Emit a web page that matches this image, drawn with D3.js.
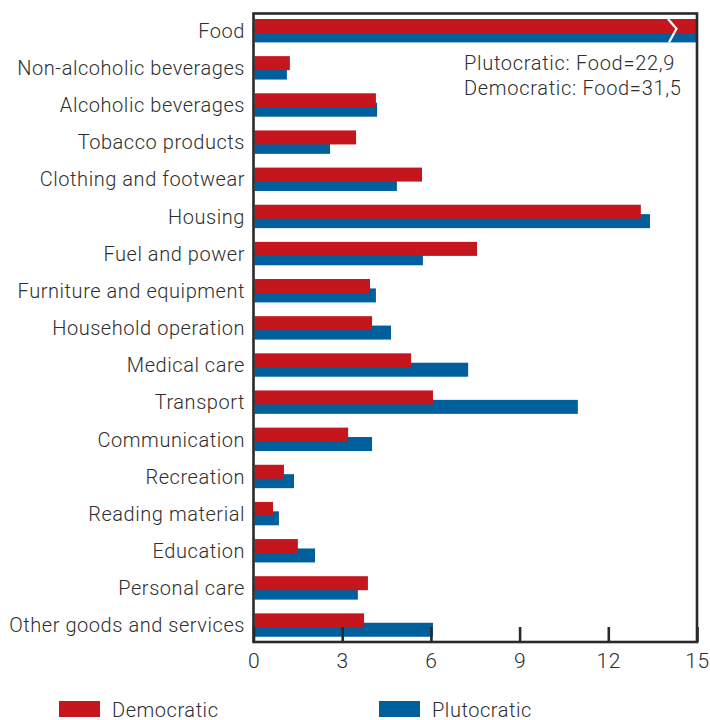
<!DOCTYPE html>
<html>
<head>
<meta charset="utf-8">
<script src="https://cdn.jsdelivr.net/npm/d3@7"></script>
<style>
  html, body { margin: 0; padding: 0; background: #fff; }
  svg { display: block; }
  text { font-family: "Roboto", "Liberation Sans", sans-serif; font-weight: 300; fill: #2e2e2e; letter-spacing: 0.55px; }
</style>
</head>
<body>
<svg id="chart" width="710" height="720"></svg>
<script>
// Household expenditure shares by category
const categories = [
  "Food", "Non-alcoholic beverages", "Alcoholic beverages", "Tobacco products",
  "Clothing and footwear", "Housing", "Fuel and power", "Furniture and equipment",
  "Household operation", "Medical care", "Transport", "Communication",
  "Recreation", "Reading material", "Education", "Personal care",
  "Other goods and services"
];
const democratic = [31.5, 1.23, 4.14, 3.47, 5.70, 13.10, 7.56, 3.94, 4.01, 5.33, 6.07, 3.20, 1.03, 0.66, 1.50, 3.87, 3.74];
const plutocratic = [22.9, 1.13, 4.18, 2.59, 4.85, 13.41, 5.73, 4.14, 4.65, 7.26, 10.97, 4.01, 1.37, 0.86, 2.08, 3.53, 6.07];
const xTicks = [0, 3, 6, 9, 12, 15];
const seriesNames = ["Democratic", "Plutocratic"];
const noteLines = ["Plutocratic: Food=22,9", "Democratic: Food=31,5"];

const colors = { Democratic: "#c4161c", Plutocratic: "#005f9d" };

const svg = d3.select("#chart");

const frame = { left: 253.5, right: 697, top: 13.5, bottom: 642 };

const x = d3.scaleLinear().domain([0, 15]).range([frame.left, frame.right]).clamp(true);
const y = d3.scaleBand().domain(categories).range([12, 643.5]);

const barH = 14;
const redOff = 7;
const blueOff = 16.4;

const rows = categories.map((c, i) => ({ cat: c, dem: democratic[i], plu: plutocratic[i] }));

// bars: plutocratic behind, democratic on top
svg.append("g").selectAll("rect").data(rows).join("rect")
  .attr("x", x(0) + 1)
  .attr("y", d => y(d.cat) + blueOff)
  .attr("width", d => x(d.plu) - x(0) - 1)
  .attr("height", barH)
  .attr("fill", colors.Plutocratic);

svg.append("g").selectAll("rect").data(rows).join("rect")
  .attr("x", x(0) + 1)
  .attr("y", d => y(d.cat) + redOff)
  .attr("width", d => x(d.dem) - x(0) - 1)
  .attr("height", barH)
  .attr("fill", colors.Democratic);

// break marker on bars running past the axis limit
rows.filter(d => d.dem > 15 || d.plu > 15).forEach(d => {
  const top = y(d.cat) + redOff;
  const bot = y(d.cat) + blueOff + barH;
  const xe = x(15);
  svg.append("polyline")
    .attr("points", [[xe - 29, top], [xe - 20.5, (top + bot) / 2 - 2], [xe - 28, bot]].map(p => p.join(",")).join(" "))
    .attr("fill", "none")
    .attr("stroke", "#fff")
    .attr("stroke-width", 2.2);
});

// category labels
svg.append("g").selectAll("text").data(rows).join("text")
  .attr("x", 245)
  .attr("y", d => y(d.cat) + redOff + (blueOff + barH - redOff) / 2)
  .attr("dy", "0.36em")
  .attr("text-anchor", "end")
  .attr("font-size", 20)
  .text(d => d.cat);

// frame
svg.append("rect")
  .attr("x", frame.left).attr("y", frame.top)
  .attr("width", frame.right - frame.left).attr("height", frame.bottom - frame.top)
  .attr("fill", "none")
  .attr("stroke", "#2a2a2a")
  .attr("stroke-width", 2.6);

// x axis with inward ticks
const xAxis = d3.axisBottom(x).tickValues(xTicks).tickSize(-15).tickPadding(0).tickFormat(d3.format("d"));
const ax = svg.append("g").attr("transform", `translate(0,${frame.bottom})`).call(xAxis);
ax.select(".domain").remove();
ax.selectAll(".tick line").attr("stroke", "#2a2a2a").attr("stroke-width", 2.6);
ax.selectAll(".tick text")
  .attr("y", 26)
  .attr("dy", 0)
  .attr("font-size", 21)
  .attr("font-family", null)
  .style("fill", "#2e2e2e");

// note on the truncated category
svg.append("g").selectAll("text").data(noteLines).join("text")
  .attr("x", 464)
  .attr("y", (d, i) => 70 + i * 25)
  .attr("font-size", 20)
  .style("letter-spacing", "0.7px")
  .text(d => d);

// legend
const legendX = [59, 379];
const lg = svg.append("g").selectAll("g").data(seriesNames).join("g")
  .attr("transform", (d, i) => `translate(${legendX[i]},701)`);
lg.append("rect").attr("width", 41).attr("height", 16).attr("fill", d => colors[d]);
lg.append("text").attr("x", 53).attr("y", 15.5).attr("font-size", 20).text(d => d);
</script>
</body>
</html>
